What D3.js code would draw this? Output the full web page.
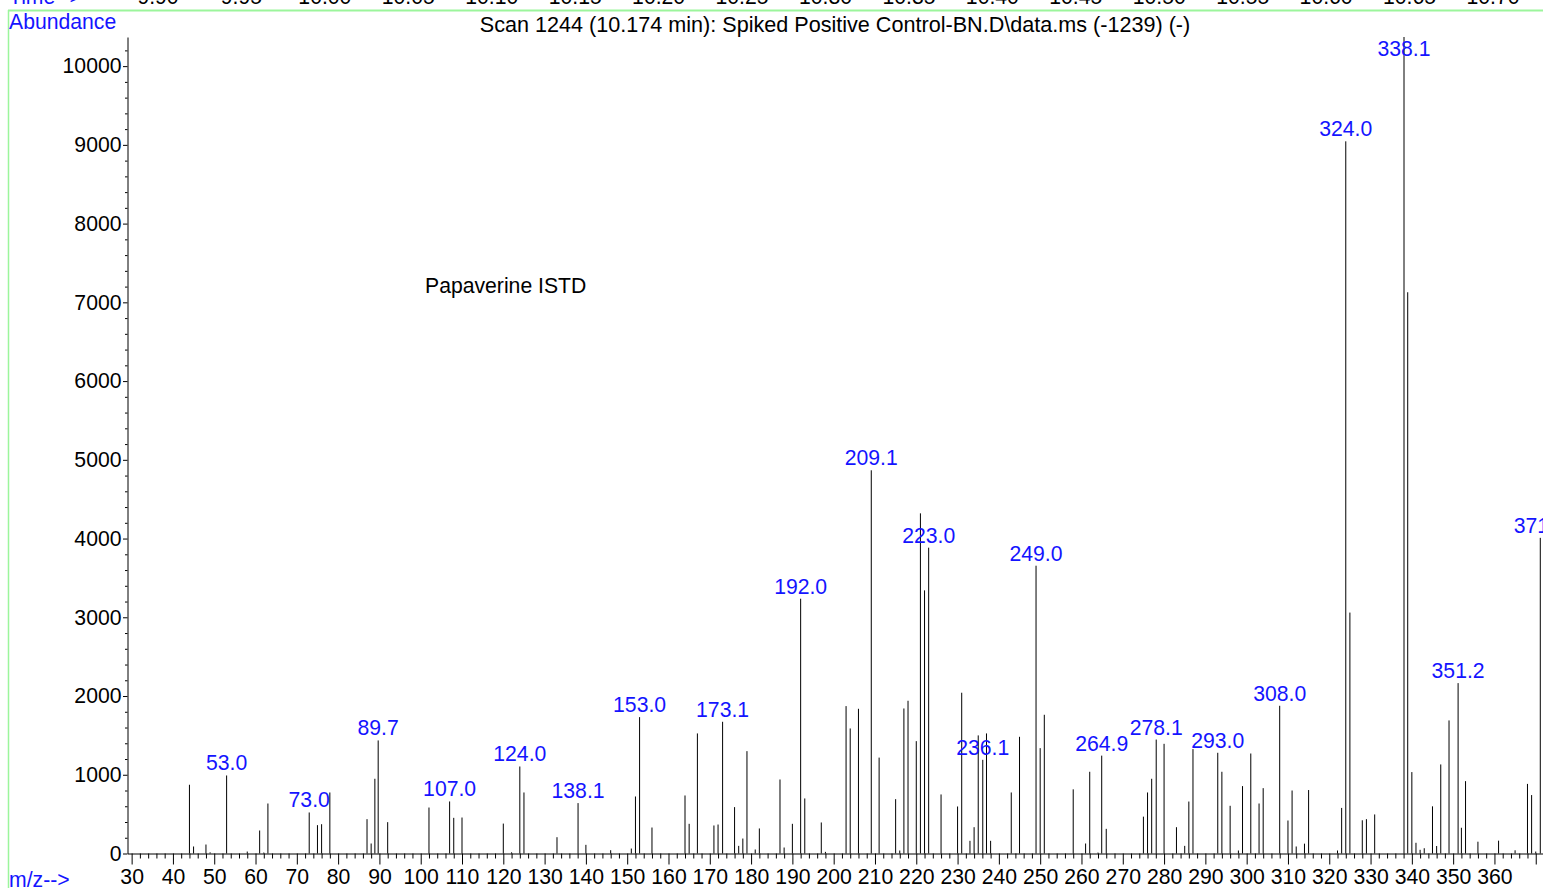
<!DOCTYPE html>
<html>
<head>
<meta charset="utf-8">
<script src="https://cdn.jsdelivr.net/npm/d3@7/dist/d3.min.js"></script>
<style>
  html, body { margin: 0; padding: 0; background: #fff; overflow: hidden; }
  svg { display: block; font-family: "Liberation Sans", Arial, Helvetica, sans-serif; }
</style>
</head>
<body>
<svg id="chart" width="1543" height="888"></svg>
<script>
// ---- data ----
const mz = [44, 45, 48, 49, 53.0, 58, 61, 62, 63, 73.0, 75, 76, 78, 87, 88, 88.9, 89.7, 92,
  102, 107.0, 108, 110, 120, 122, 124.0, 125, 133, 138.1, 140, 146, 151, 152, 153.0, 156,
  164, 165, 167, 171, 172, 173.1, 176, 177, 178, 179, 181, 182, 187, 188, 190, 192.0, 193,
  197, 198, 203, 204, 206, 209.1, 211, 215, 216, 217, 218, 220, 221, 222, 223.0, 226, 230,
  231, 233, 234, 235, 236.1, 237, 238, 243, 245, 249.0, 250, 251, 258, 261, 262, 264, 264.9,
  266, 275, 276, 277, 278.1, 280, 283, 285, 286, 287, 293.0, 294, 296, 298, 299, 301, 303,
  304, 308.0, 310, 311, 312, 314, 315, 322, 323, 324.0, 325, 328, 329, 331, 338.1, 339, 340,
  341, 342, 343, 345, 346, 347, 349, 351.2, 352, 353, 356, 361, 365, 368, 369, 370, 371.1];
const abundance = [873, 89, 114, 15, 991, 25, 292, 12, 635, 521, 360, 372, 775, 436, 127, 949, 1436, 398,
  584, 661, 453, 457, 380, 15, 1105, 775, 207, 640, 110, 42, 63, 724, 1732, 330,
  737, 377, 1525, 356, 368, 1673, 589, 97, 190, 1300, 51, 318, 940, 76, 377, 3236, 699,
  394, 21, 1872, 1588, 1838, 4867, 1218, 690, 38, 1842, 1940, 1427, 4320, 3342, 3884, 750, 597,
  2042, 161, 334, 1500, 1190, 1525, 161, 775, 1482, 3655, 1338, 1762, 815, 127, 1038, 12, 1243,
  313, 468, 775, 949, 1447, 1393, 334, 97, 660, 1326, 1279, 1038, 606, 38, 856, 1270, 635,
  830, 1876, 419, 800, 89, 125, 806, 38, 579, 9045, 3060, 422, 436, 496, 10370, 7128, 1034,
  136, 47, 67, 599, 95, 1131, 1690, 2164, 327, 919, 150, 163, 41, 884, 742, 25, 4009];
const peakLabels = ["53.0", "73.0", "89.7", "107.0", "124.0", "138.1", "153.0", "173.1", "192.0",
  "209.1", "223.0", "236.1", "249.0", "264.9", "278.1", "293.0", "308.0", "324.0", "338.1",
  "351.2", "371.1"];
const xTickLabels = [30, 40, 50, 60, 70, 80, 90, 100, 110, 120, 130, 140, 150, 160, 170, 180,
  190, 200, 210, 220, 230, 240, 250, 260, 270, 280, 290, 300, 310, 320, 330, 340, 350, 360];
const yTickLabels = [0, 1000, 2000, 3000, 4000, 5000, 6000, 7000, 8000, 9000, 10000];
const timeTicks = ["9.90", "9.95", "10.00", "10.05", "10.10", "10.15", "10.20", "10.25", "10.30",
  "10.35", "10.40", "10.45", "10.50", "10.55", "10.60", "10.65", "10.70"];
const title = "Scan 1244 (10.174 min): Spiked Positive Control-BN.D\\data.ms (-1239) (-)";
const annotation = "Papaverine ISTD";

// ---- layout ----
const svg = d3.select("#chart");
const FS = 21.2;
const BLUE = "#1414ff";
const x = d3.scaleLinear().domain([29, 372]).range([127.5, 1544]);
const y = d3.scaleLinear().domain([0, 10370]).range([853.5, 37]);
const tScale = d3.scaleLinear().domain([9.90, 10.70]).range([158, 1493]);

// green frame
svg.append("line").attr("x1", 8).attr("x2", 1543).attr("y1", 10.5).attr("y2", 10.5)
  .attr("stroke", "#9cf59c").attr("stroke-width", 2);
svg.append("line").attr("x1", 8.5).attr("x2", 8.5).attr("y1", 10).attr("y2", 888)
  .attr("stroke", "#9cf59c").attr("stroke-width", 1.5);

// time row (mostly cut off at top, as in the reference)
svg.append("text").attr("x", 9).attr("y", 4).attr("fill", BLUE).attr("font-size", FS).text("Time-->");
svg.append("g").selectAll("text").data(timeTicks).join("text")
  .attr("x", d => tScale(+d)).attr("y", 4).attr("text-anchor", "middle")
  .attr("font-size", FS).attr("fill", "#000").text(d => d);

// header texts
svg.append("text").attr("x", 9).attr("y", 29).attr("fill", BLUE).attr("font-size", FS).text("Abundance");
svg.append("text").attr("x", 835).attr("y", 32).attr("text-anchor", "middle").attr("font-size", 21.6)
  .attr("fill", "#000").text(title);
svg.append("text").attr("x", 9).attr("y", 887).attr("fill", BLUE).attr("font-size", FS).text("m/z-->");
svg.append("text").attr("x", 425).attr("y", 293).attr("font-size", FS).attr("fill", "#000").text(annotation);

// x axis: minor ticks
const xMinor = d3.range(30, 372, 2).filter(v => v % 10 !== 0);
svg.append("g").attr("transform", "translate(0,853.5)")
  .call(d3.axisBottom(x).tickValues(xMinor).tickSize(5).tickFormat(""))
  .call(g => g.select(".domain").remove());
svg.append("g").attr("transform", "translate(0,853.5)")
  .call(d3.axisBottom(x).tickValues(xTickLabels.concat([370])).tickSize(11).tickSizeOuter(0).tickPadding(4.5)
    .tickFormat(d => xTickLabels.includes(d) ? d : ""))
  .call(g => g.selectAll("text").attr("font-size", FS).attr("font-family", null).attr("fill", "#000"));

// y axis
const yMinor = d3.range(0, 10370, 200).filter(v => v % 1000 !== 0);
svg.append("g").attr("transform", "translate(127.5,0)")
  .call(d3.axisLeft(y).tickValues(yMinor).tickSize(2.5).tickFormat(""))
  .call(g => g.select(".domain").remove());
svg.append("g").attr("transform", "translate(127.5,0)")
  .call(d3.axisLeft(y).tickValues(yTickLabels).tickSize(4.5).tickSizeOuter(0).tickPadding(1.5).tickFormat(d3.format("d")))
  .call(g => g.selectAll("text").attr("font-size", FS).attr("font-family", null).attr("fill", "#000"));

// spectrum sticks
const peaks = mz.map((m, i) => ({ m, a: abundance[i] }));
svg.append("g").selectAll("line").data(peaks).join("line")
  .attr("x1", d => x(d.m)).attr("x2", d => x(d.m))
  .attr("y1", y(0)).attr("y2", d => y(d.a))
  .attr("stroke", "#000").attr("stroke-width", 1);

// peak labels
svg.append("g").selectAll("text").data(peakLabels).join("text")
  .attr("x", d => x(+d))
  .attr("y", d => {
    const i = mz.indexOf(+d);
    return Math.max(y(abundance[i]) - 5, 56);
  })
  .attr("text-anchor", "middle").attr("font-size", FS).attr("fill", BLUE)
  .text(d => d);
</script>
</body>
</html>
